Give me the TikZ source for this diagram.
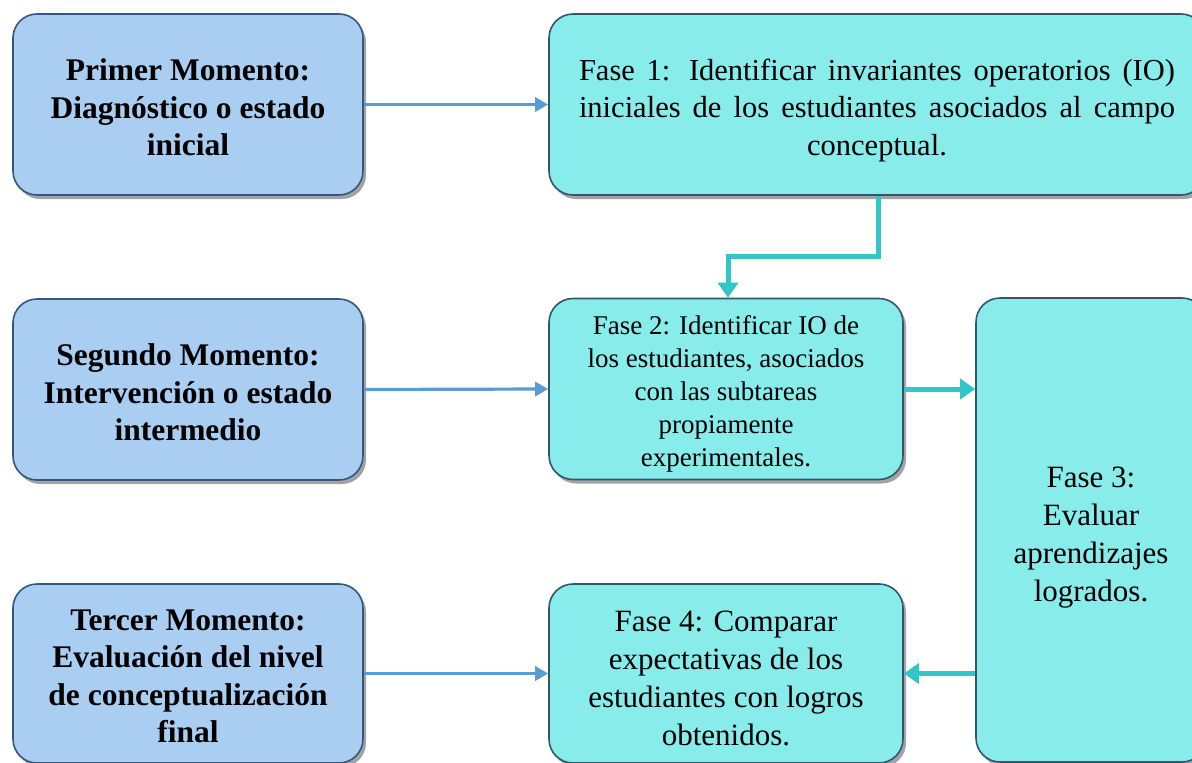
\documentclass[tikz,border=0pt]{standalone}
\usepackage{fontspec}
\setmainfont{Liberation Serif}
\usetikzlibrary{arrows.meta,shadows}
\definecolor{mfill}{HTML}{A9CEF2}
\definecolor{mdraw}{HTML}{35577F}
\definecolor{ffill}{HTML}{88ECEB}
\definecolor{fdraw}{HTML}{34566C}
\definecolor{blueline}{HTML}{5B9BD5}
\definecolor{tealline}{HTML}{33C6C9}
\tikzset{
  x=1pt,y=-1pt,
  boxbase/.style={rounded corners=24pt, line width=1.6pt, inner sep=0pt,
    drop shadow={shadow xshift=3pt, shadow yshift=-4pt, opacity=0.45, fill=black!80}},
  mbox/.style={boxbase, fill=mfill, draw=mdraw, minimum width=350pt, minimum height=181pt},
  fbox/.style={boxbase, fill=ffill, draw=fdraw},
  mtext/.style={align=center, inner sep=0pt, font=\fontsize{31.5}{37.5}\selectfont\bfseries},
  ftext/.style={align=center, inner sep=0pt},
  blarrow/.style={draw=blueline, line width=3.2pt, -{Triangle[length=13pt,width=14pt]}},
  tlarrow/.style={draw=tealline, line width=5pt, -{Triangle[length=15pt,width=20pt]}},
}
\begin{document}
\begin{tikzpicture}
\useasboundingbox (0,0) rectangle (1192,763);
\clip (0,0) rectangle (1192,763);
% momentos
\node[mbox] (m1) at (188,104.5) {};
\node[mbox] (m2) at (188,389.5) {};
\node[mbox, minimum height=179pt] (m3) at (188,673.5) {};
\node[mtext] (t1) at ([yshift=-3pt]m1.center) {Primer Momento:\\Diagnóstico o estado\\inicial};
\node[mtext] (t2) at ([yshift=-3pt]m2.center) {Segundo Momento:\\Intervención o estado\\intermedio};
\node[mtext] (t3) at ([yshift=-3pt]m3.center) {Tercer Momento:\\Evaluación del nivel\\de conceptualización\\final};
% fases
\node[fbox, minimum width=656pt, minimum height=181pt] (f1) at (877,104.5) {};
\node[fbox, minimum width=354pt, minimum height=181pt] (f2) at (726,389) {};
\node[fbox, minimum width=230pt, minimum height=464pt] (f3) at (1091,530) {};
\node[fbox, minimum width=354pt, minimum height=179pt] (f4) at (726,673.5) {};
\node[ftext, font=\fontsize{30.5}{37.5}\selectfont] (u1) at ([yshift=-6pt]f1.center)
  {\makebox[596pt][s]{Fase 1: Identificar invariantes operatorios (IO)}\\
   \makebox[596pt][s]{iniciales de los estudiantes asociados al campo}\\
   conceptual.};
\node[ftext, font=\fontsize{27}{33}\selectfont] (u2) at ([yshift=-4.5pt]f2.center)
  {Fase 2: Identificar IO de\\los estudiantes, asociados\\con las subtareas\\propiamente\\experimentales.};
\node[ftext, font=\fontsize{31}{38}\selectfont] (u3) at ([yshift=-8pt]f3.center)
  {Fase 3:\\Evaluar\\aprendizajes\\logrados.};
\node[ftext, font=\fontsize{31}{38}\selectfont] (u4) at ([yshift=-4.5pt]f4.center)
  {Fase 4: Comparar\\expectativas de los\\estudiantes con logros\\obtenidos.};
% connectors
\draw[blarrow] (m1.east) -- (f1.west);
\draw[blarrow] (m2.east) -- (f2.west);
\draw[blarrow] (m3.east) -- (f4.west);
\coordinate (d1) at (878,256);
\draw[tlarrow] (f1.south -| d1) -- (d1) -| ([xshift=2pt]f2.north);
\draw[tlarrow] (f2.east) -- (f2.east -| f3.west);
\draw[tlarrow] (f4.east -| f3.west) -- (f4.east);
\end{tikzpicture}
\end{document}
